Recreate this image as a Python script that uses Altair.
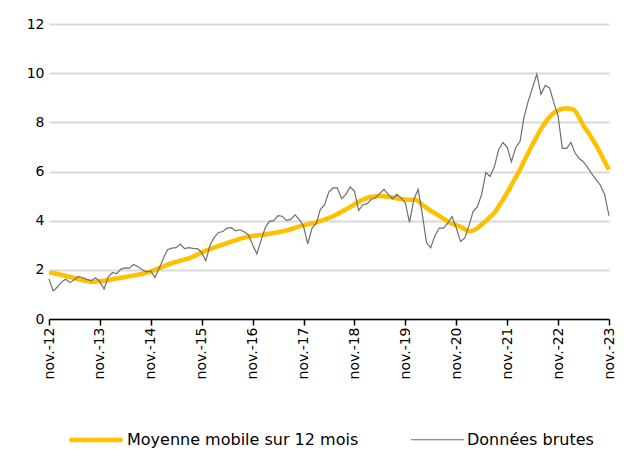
import altair as alt
import pandas as pd

# Monthly observations, nov.-12 .. nov.-23 (133 months)
raw = [
    1.63, 1.14, 1.30, 1.52, 1.62, 1.48, 1.60, 1.73, 1.68, 1.60, 1.56, 1.68,
    1.52, 1.22, 1.73, 1.89, 1.84, 2.03, 2.08, 2.07, 2.22, 2.13, 2.00, 1.92,
    1.96, 1.69, 2.07, 2.48, 2.82, 2.88, 2.90, 3.05, 2.86, 2.90, 2.87, 2.86,
    2.71, 2.37, 3.02, 3.33, 3.52, 3.56, 3.70, 3.72, 3.59, 3.63, 3.55, 3.43,
    3.02, 2.65, 3.22, 3.74, 3.97, 4.00, 4.20, 4.18, 4.01, 4.05, 4.24, 4.05,
    3.77, 3.06, 3.70, 3.90, 4.45, 4.65, 5.16, 5.33, 5.33, 4.89, 5.07, 5.37,
    5.20, 4.42, 4.65, 4.69, 4.86, 4.93, 5.10, 5.27, 5.07, 4.89, 5.07, 4.93,
    4.72, 3.93, 4.86, 5.27, 4.30, 3.10, 2.90, 3.40, 3.70, 3.70, 3.90, 4.17,
    3.70, 3.15, 3.30, 3.83, 4.37, 4.57, 5.06, 5.96, 5.80, 6.20, 6.90, 7.18,
    6.98, 6.40, 6.98, 7.23, 8.20, 8.86, 9.40, 9.96, 9.14, 9.50, 9.40, 8.80,
    8.25, 6.94, 6.94, 7.18, 6.77, 6.53, 6.40, 6.16, 5.90, 5.67, 5.43, 5.06,
    4.20,
]

moving_avg = [
    1.89, 1.86, 1.83, 1.79, 1.75, 1.71, 1.67, 1.62, 1.58, 1.54, 1.52, 1.52,
    1.54, 1.56, 1.59, 1.62, 1.65, 1.68, 1.71, 1.74, 1.77, 1.80, 1.84, 1.88,
    1.93, 2.00, 2.07, 2.14, 2.21, 2.27, 2.32, 2.37, 2.42, 2.47, 2.54, 2.62,
    2.70, 2.78, 2.85, 2.91, 2.97, 3.03, 3.09, 3.15, 3.20, 3.26, 3.31, 3.35,
    3.38, 3.40, 3.42, 3.44, 3.47, 3.50, 3.53, 3.56, 3.60, 3.65, 3.71, 3.77,
    3.81, 3.85, 3.89, 3.93, 3.99, 4.05, 4.11, 4.18, 4.27, 4.36, 4.46, 4.56,
    4.66, 4.77, 4.86, 4.93, 4.97, 4.99, 5.00, 4.99, 4.97, 4.94, 4.91, 4.88,
    4.86, 4.85, 4.85, 4.80, 4.65, 4.52, 4.40, 4.30, 4.19, 4.08, 3.96, 3.88,
    3.81, 3.75, 3.65, 3.56, 3.60, 3.70, 3.84, 3.99, 4.15, 4.33, 4.58, 4.85,
    5.14, 5.45, 5.77, 6.08, 6.42, 6.76, 7.10, 7.42, 7.72, 8.00, 8.22, 8.38,
    8.48, 8.55, 8.57, 8.55, 8.47, 8.20, 7.87, 7.62, 7.35, 7.06, 6.73, 6.40,
    6.08,
]

months = pd.date_range("2012-11-01", "2023-11-01", freq="MS").strftime("%Y-%m-%d").tolist()
tick_years = list(range(2012, 2024))
y_ticks = [0, 2, 4, 6, 8, 10, 12]

S_MA = "Moyenne mobile sur 12 mois"
S_RAW = "Données brutes"

df = pd.DataFrame({
    "date": months + months,
    "value": moving_avg + raw,
    "series": [S_MA] * len(moving_avg) + [S_RAW] * len(raw),
})

FONT = "DejaVu Sans"

x_enc = alt.X(
    "date:T",
    scale=alt.Scale(
        type="utc",
        domain=[alt.DateTime(year=2012, month=11, date=1, utc=True),
                alt.DateTime(year=2023, month=11, date=1, utc=True)],
        nice=False,
    ),
    axis=alt.Axis(
        values=[alt.DateTime(year=y, month=11, date=1, utc=True) for y in tick_years],
        labelExpr="'nov.-' + utcFormat(datum.value, '%y')",
        labelAngle=-90,
        title=None,
        grid=False,
        domainColor="#000000",
        domainWidth=1.5,
        tickColor="#000000",
        tickWidth=1.5,
        tickSize=6,
        labelPadding=2,
        labelFontSize=14,
    ),
)

y_enc = alt.Y(
    "value:Q",
    scale=alt.Scale(domain=[0, 12], nice=False),
    axis=alt.Axis(
        values=y_ticks,
        title=None,
        domain=False,
        ticks=False,
        grid=True,
        gridColor="#d9d9d9",
        gridWidth=2,
        labelPadding=5,
        labelFontSize=14,
    ),
)

legend = alt.Legend(
    title=None,
    orient="none",
    legendX=18,
    legendY=387,
    direction="horizontal",
    symbolType="stroke",
    symbolSize=2809,
    labelFont=FONT,
    labelFontSize=16,
    labelColor="#000000",
    labelLimit=400,
    labelOffset=2,
    columnPadding=49,
    padding=0,
)

color_enc = alt.Color(
    "series:N",
    scale=alt.Scale(domain=[S_MA, S_RAW], range=["#FFC000", "#6f6f6f"]),
    legend=legend,
)
sw_enc = alt.StrokeWidth(
    "series:N",
    scale=alt.Scale(domain=[S_MA, S_RAW], range=[4.5, 1.2]),
    legend=legend,
)

base = alt.Chart(df).encode(x=x_enc, y=y_enc, color=color_enc, strokeWidth=sw_enc)

ma_line = base.transform_filter(alt.datum.series == S_MA).mark_line(interpolate="monotone")
raw_line = base.transform_filter(alt.datum.series == S_RAW).mark_line()

chart = alt.layer(ma_line, raw_line).properties(
    width=560,
    height=295,
    padding={"left": 41, "top": 16, "right": 7, "bottom": 130},
    autosize=alt.AutoSizeParams(type="none"),
).configure_view(stroke=None).configure_axis(
    labelFont=FONT,
    labelColor="#000000",
)

chart.save("out.html", embed_options={"renderer": "svg", "actions": False})
